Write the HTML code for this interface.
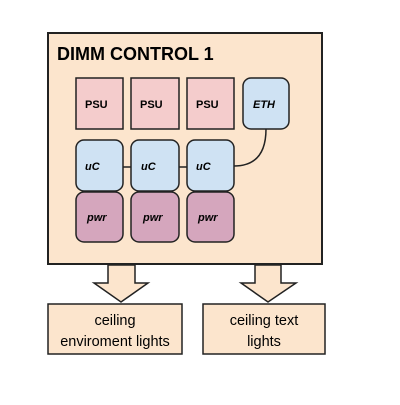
<!DOCTYPE html>
<html><head><style>body{margin:0;background:#fff}</style></head><body>
<svg width="400" height="400" viewBox="0 0 400 400" xmlns="http://www.w3.org/2000/svg">
<rect x="0" y="0" width="400" height="400" fill="#fff"/>
<rect x="48" y="33" width="274" height="231" fill="#fce5cd" stroke="#222" stroke-width="2"/>
<text x="57" y="60" font-family="Liberation Sans, sans-serif" font-weight="bold" font-size="18" fill="#000">DIMM CONTROL 1</text>
<g stroke="#222" stroke-width="1.5">
<rect x="76" y="78" width="47" height="51" fill="#f4cccc"/>
<rect x="131" y="78" width="48" height="51" fill="#f4cccc"/>
<rect x="187" y="78" width="47" height="51" fill="#f4cccc"/>
<rect x="243" y="78" width="46" height="51" rx="8" fill="#cfe2f3"/>
<line x1="123" y1="167" x2="131" y2="167"/>
<line x1="179" y1="167" x2="187" y2="167"/>
<path d="M266 129 Q266 166 234 166" fill="none"/>
<rect x="76" y="140" width="47" height="51" rx="8" fill="#cfe2f3"/>
<rect x="131" y="140" width="48" height="51" rx="8" fill="#cfe2f3"/>
<rect x="187" y="140" width="47" height="51" rx="8" fill="#cfe2f3"/>
<rect x="76" y="192" width="47" height="50" rx="8" fill="#d5a6bd"/>
<rect x="131" y="192" width="48" height="50" rx="8" fill="#d5a6bd"/>
<rect x="187" y="192" width="47" height="50" rx="8" fill="#d5a6bd"/>
</g>
<g font-family="Liberation Sans, sans-serif" font-weight="bold" font-size="11" fill="#000">
<text x="85" y="108">PSU</text><text x="140" y="108">PSU</text><text x="196" y="108">PSU</text>
<text x="253" y="108" font-style="italic">ETH</text>
<text x="85" y="170" font-style="italic">uC</text><text x="141" y="170" font-style="italic">uC</text><text x="196" y="170" font-style="italic">uC</text>
<text x="87" y="221" font-style="italic">pwr</text><text x="143" y="221" font-style="italic">pwr</text><text x="198" y="221" font-style="italic">pwr</text>
</g>
<g fill="#fce5cd" stroke="#222" stroke-width="1.5">
<path d="M108 265 L135 265 L135 283 L148 283 L121 302 L94 283 L108 283 Z"/>
<path d="M255 265 L281 265 L281 283 L296 283 L268 302 L241 283 L255 283 Z"/>
<rect x="48" y="304" width="134" height="50"/>
<rect x="203" y="304" width="122" height="50"/>
</g>
<g font-family="Liberation Sans, sans-serif" font-size="14.5" fill="#000" text-anchor="middle">
<text x="115" y="325">ceiling</text><text x="115" y="346">enviroment lights</text>
<text x="264" y="325">ceiling text</text><text x="264" y="346">lights</text>
</g>
</svg>
</body></html>
